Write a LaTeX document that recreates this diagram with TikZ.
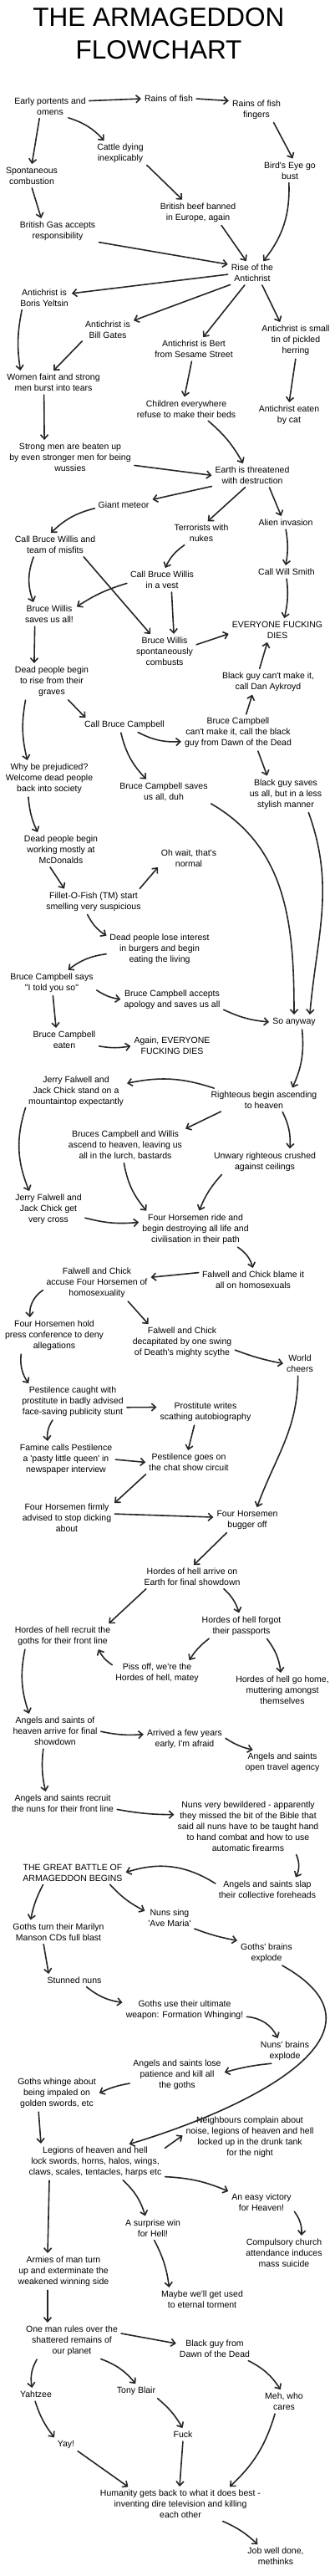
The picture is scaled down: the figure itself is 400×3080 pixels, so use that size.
\documentclass[tikz,border=0pt]{standalone}
\usepackage{fontspec}
\setmainfont{Liberation Sans}[Ligatures=TeXOff]
\usetikzlibrary{arrows.meta}

\begin{document}
\begin{tikzpicture}[x=1pt,y=1pt,
    every node/.style={font=\fontsize{10.5}{13}\selectfont,align=center,inner sep=3pt},
    headline/.style={font=\fontsize{31.5}{39}\selectfont,inner sep=0pt},
    flow/.style={-{Straight Barb[length=5pt,width=9pt]},line width=1.6pt,draw=black!85,
      line cap=round,line join=round,shorten <=1pt,shorten >=1pt}]
  \useasboundingbox (0,0) rectangle (400,-3080);
  \node[headline] (title) at (190,-40.5) {THE ARMAGEDDON\\FLOWCHART};
  \node (early) at (60,-127) {Early portents and\\omens};
  \node (rain) at (202,-118) {Rains of fish};
  \node (fingers) at (307,-131) {Rains of fish\\fingers};
  \node (cattle) at (144,-183.5) {Cattle dying\\inexplicably};
  \node (spont) at (38,-210.5) {Spontaneous\\combustion};
  \node (birds) at (347,-204) {Bird's Eye go\\bust};
  \node (beef) at (237,-254) {British beef banned\\in Europe, again};
  \node (gas) at (69,-276.5) {British Gas accepts\\responsibility};
  \node (rise) at (302,-326.5) {Rise of the\\Antichrist};
  \node (yeltsin) at (53,-356) {Antichrist is\\Boris Yeltsin};
  \node (gates) at (129,-394.5) {Antichrist is\\Bill Gates};
  \node (bert) at (232,-417.5) {Antichrist is Bert\\from Sesame Street};
  \node (herring) at (354,-407) {Antichrist is small\\tin of pickled\\herring};
  \node (women) at (64,-457.5) {Women faint and strong\\men burst into tears};
  \node (children) at (223,-489) {Children everywhere\\refuse to make their beds};
  \node (eaten) at (346,-496.5) {Antichrist eaten\\by cat};
  \node (strong) at (84,-547) {Strong men are beaten up\\by even stronger men for being\\wussies};
  \node (earth) at (302,-568.5) {Earth is threatened\\with destruction};
  \node (meteor) at (148,-604) {Giant meteor};
  \node (terrorists) at (241,-637.5) {Terrorists with\\nukes};
  \node (alien) at (342,-625) {Alien invasion};
  \node (misfits) at (66,-651.5) {Call Bruce Willis and\\team of misfits};
  \node (vest) at (194,-693.5) {Call Bruce Willis\\in a vest};
  \node (willsmith) at (343,-684) {Call Will Smith};
  \node (saves) at (59,-734.5) {Bruce Willis\\saves us all!};
  \node (everyone) at (332,-753.5) {EVERYONE FUCKING\\DIES};
  \node (combusts) at (197,-779) {Bruce Willis\\spontaneously\\combusts};
  \node (deadrise) at (62,-815) {Dead people begin\\to rise from their\\graves};
  \node (dan) at (321,-815) {Black guy can't make it,\\call Dan Aykroyd};
  \node (callbc) at (149,-867) {Call Bruce Campbell};
  \node (bcno) at (285,-876) {Bruce Campbell\\can't make it, call the black\\guy from Dawn of the Dead};
  \node (prejudiced) at (59,-931) {Why be prejudiced?\\Welcome dead people\\back into society};
  \node (bcsaves) at (196,-946.5) {Bruce Campbell saves\\us all, duh};
  \node (blackguy) at (342,-949.5) {Black guy saves\\us all, but in a less\\stylish manner};
  \node (mcdonalds) at (73,-1016) {Dead people begin\\working mostly at\\McDonalds};
  \node (normal) at (226,-1026.5) {Oh wait, that's\\normal};
  \node (fillet) at (112,-1078) {Fillet-O-Fish (TM) start\\smelling very suspicious};
  \node (lose) at (191,-1135) {Dead people lose interest\\in burgers and begin\\eating the living};
  \node (told) at (62,-1175) {Bruce Campbell says\\"I told you so"};
  \node (accepts) at (206,-1195) {Bruce Campbell accepts\\apology and saves us all};
  \node (anyway) at (352,-1222) {So anyway};
  \node (bceaten) at (77,-1243.5) {Bruce Campbell\\eaten};
  \node (again) at (206,-1250.5) {Again, EVERYONE\\FUCKING DIES};
  \node (jerry) at (91,-1305) {Jerry Falwell and\\Jack Chick stand on a\\mountaintop expectantly};
  \node (righteous) at (316,-1315) {Righteous begin ascending\\to heaven};
  \node (bruces) at (150,-1369) {Bruces Campbell and Willis\\ascend to heaven, leaving us\\all in the lurch, bastards};
  \node (unwary) at (317,-1389) {Unwary righteous crushed\\against ceilings};
  \node (cross) at (58,-1446) {Jerry Falwell and\\Jack Chick get\\very cross};
  \node (horsemen) at (234,-1469.5) {Four Horsemen ride and\\begin destroying all life and\\civilisation in their path};
  \node (accuse) at (116,-1534) {Falwell and Chick\\accuse Four Horsemen of\\homosexuality};
  \node (blame) at (303,-1530.5) {Falwell and Chick blame it\\all on homosexuals};
  \node (press) at (65,-1597) {Four Horsemen hold\\press conference to deny\\allegations};
  \node (decap) at (218,-1605) {Falwell and Chick\\decapitated by one swing\\of Death's mighty scythe};
  \node (world) at (359,-1630.5) {World\\cheers};
  \node (pest) at (87,-1676) {Pestilence caught with\\prostitute in badly advised\\face-saving publicity stunt};
  \node (prost) at (246,-1688.5) {Prostitute writes\\scathing autobiography};
  \node (famine) at (79,-1745) {Famine calls Pestilence\\a 'pasty little queen' in\\newspaper interview};
  \node (chat) at (226,-1748.5) {Pestilence goes on\\the chat show circuit};
  \node (firmly) at (80,-1815) {Four Horsemen firmly\\advised to stop dicking\\about};
  \node (bugger) at (296,-1817.5) {Four Horsemen\\bugger off};
  \node (arrive) at (230,-1885.5) {Hordes of hell arrive on\\Earth for final showdown};
  \node (recruit) at (75,-1956.5) {Hordes of hell recruit the\\goths for their front line};
  \node (passports) at (289,-1944) {Hordes of hell forgot\\their passports};
  \node (piss) at (188,-2000.5) {Piss off, we're the\\Hordes of hell, matey};
  \node (home) at (338,-2021) {Hordes of hell go home,\\muttering amongst\\themselves};
  \node (angels) at (66,-2070) {Angels and saints of\\heaven arrive for final\\showdown};
  \node (fewyears) at (221,-2079.5) {Arrived a few years\\early, I'm afraid};
  \node (agency) at (338,-2107) {Angels and saints\\open travel agency};
  \node (nuns) at (75,-2156.5) {Angels and saints recruit\\the nuns for their front line};
  \node (bewildered) at (297,-2183.5) {Nuns very bewildered - apparently\\they missed the bit of the Bible that\\said all nuns have to be taught hand\\to hand combat and how to use\\automatic firearms};
  \node (battle) at (87,-2239) {THE GREAT BATTLE OF\\ARMAGEDDON BEGINS};
  \node (slap) at (320,-2259) {Angels and saints slap\\their collective foreheads};
  \node (sing) at (203,-2293.5) {Nuns sing\\'Ave Maria'};
  \node (goths) at (70,-2310) {Goths turn their Marilyn\\Manson CDs full blast};
  \node (brains) at (319,-2335) {Goths' brains\\explode};
  \node (stunned) at (89,-2368) {Stunned nuns};
  \node (ultimate) at (221,-2403.5) {Goths use their ultimate\\weapon: Formation Whinging!};
  \node (nunsbrains) at (341,-2452.5) {Nuns' brains\\explode};
  \node (patience) at (212,-2481) {Angels and saints lose\\patience and kill all\\the goths};
  \node (whinge) at (68,-2503) {Goths whinge about\\being impaled on\\golden swords, etc};
  \node (neighbours) at (299,-2555.5) {Neighbours complain about\\noise, legions of heaven and hell\\locked up in the drunk tank\\for the night};
  \node (legions) at (114,-2585) {Legions of heaven and hell\\lock swords, horns, halos, wings,\\claws, scales, tentacles, harps etc};
  \node (victory) at (313,-2633) {An easy victory\\for Heaven!};
  \node (surprise) at (183,-2664) {A surprise win\\for Hell!};
  \node (compulsory) at (340,-2694) {Compulsory church\\attendance induces\\mass suicide};
  \node (armies) at (76,-2716) {Armies of man turn\\up and exterminate the\\weakened winning side};
  \node (maybe) at (242,-2749.5) {Maybe we'll get used\\to eternal torment};
  \node (oneman) at (86,-2799) {One man rules over the\\shattered remains of\\our planet};
  \node (blackdawn) at (257,-2808.5) {Black guy from\\Dawn of the Dead};
  \node (yahtzee) at (43,-2863) {Yahtzee};
  \node (blair) at (163,-2859) {Tony Blair};
  \node (meh) at (340,-2871.5) {Meh, who\\cares};
  \node (fuck) at (219,-2911) {Fuck};
  \node (yay) at (79,-2923) {Yay!};
  \node (humanity) at (216,-2994) {Humanity gets back to what it does best -\\inventing dire television and killing\\each other};
  \node (job) at (330,-3056.5) {Job well done,\\methinks};

  \draw[flow] (early.8) -- (rain.west);
  \draw[flow] (rain.east) -- (fingers.162);
  \draw[flow] (early.-133) -- (spont.north);
  \draw[flow] (early.-33) to[bend left=15] (cattle.142);
  \draw[flow] (fingers.-36) -- (birds.74);
  \draw[flow] (cattle.-23) -- (beef.141);
  \draw[flow] (spont.south) -- (gas.143);
  \draw[flow] (birds.-95) to[bend left=20] (rise.47);
  \draw[flow] (beef.-28) -- (rise.116);
  \draw[flow] (gas.-15) -- (rise.160);
  \draw[flow] (rise.183) -- (yeltsin.9);
  \draw[flow] (rise.208) -- (gates.20);
  \draw[flow] (rise.238) -- (bert.52);
  \draw[flow] (rise.-50) -- (herring.131);
  \draw[flow] (yeltsin.207) to[bend right=10] (women.161);
  \draw[flow] (gates.203) -- (women.93);
  \draw[flow] (bert.-100) -- (children.100);
  \draw[flow] (herring.south) -- (eaten.north);
  \draw[flow] (women.230) -- (strong.147);
  \draw[flow] (children.-28) to[bend left=10] (earth.128);
  \draw[flow] (strong.-7) -- (earth.west);
  \draw[flow] (earth.195) -- (meteor.11);
  \draw[flow] (earth.240) -- (terrorists.63);
  \draw[flow] (earth.-34) -- (alien.125);
  \draw[flow] (meteor.186) to[bend right=15] (misfits.113);
  \draw[flow] (terrorists.215) to[bend right=15] (vest.76);
  \draw[flow] (alien.south) to[bend left=10] (willsmith.100);
  \draw[flow] (misfits.208) to[bend right=20] (saves.144);
  \draw[flow] (misfits.-22) -- (combusts.129);
  \draw[flow] (vest.185) to[bend right=8] (saves.15);
  \draw[flow] (vest.-50) -- (combusts.61);
  \draw[flow] (willsmith.south) to[bend left=10] (everyone.59);
  \draw[flow] (combusts.12) -- (everyone.184);
  \draw[flow] (dan.126) -- (everyone.229);
  \draw[flow] (saves.218) -- (deadrise.135);
  \draw[flow] (bcno.66) -- (dan.218);
  \draw[flow] (deadrise.-48) -- (callbc.170);
  \draw[flow] (deadrise.214) to[bend right=12] (prejudiced.141);
  \draw[flow] (callbc.-28) to[bend right=15] (bcno.189);
  \draw[flow] (callbc.-119) to[bend right=15] (bcsaves.145);
  \draw[flow] (bcno.-42) -- (blackguy.136);
  \draw[flow] (prejudiced.220) to[bend right=10] (mcdonalds.144);
  \draw[flow] (bcsaves.-14) to[out=-30,in=90] (anyway.north);
  \draw[flow] (blackguy.-38) to[out=-70,in=85] (anyway.23);
  \draw[flow] (mcdonalds.236) -- (fillet.157);
  \draw[flow] (fillet.15) -- (normal.195);
  \draw[flow] (fillet.242) to[bend right=15] (lose.166);
  \draw[flow] (lose.185) to[bend right=15] (told.38);
  \draw[flow] (told.-9) to[bend right=12] (accepts.west);
  \draw[flow] (told.-85) -- (bceaten.126);
  \draw[flow] (accepts.-11) to[bend right=10] (anyway.west);
  \draw[flow] (bceaten.-10) to[bend right=10] (again.west);
  \draw[flow] (anyway.-40) to[bend left=15] (righteous.22);
  \draw[flow] (righteous.167) to[bend right=15] (jerry.9);
  \draw[flow] (righteous.195) -- (bruces.15);
  \draw[flow] (righteous.-32) to[bend left=15] (unwary.26);
  \draw[flow] (jerry.197) to[bend right=20] (cross.137);
  \draw[flow] (bruces.-95) to[bend right=15] (horsemen.160);
  \draw[flow] (unwary.196) to[bend right=10] (horsemen.79);
  \draw[flow] (cross.-13) to[bend right=10] (horsemen.173);
  \draw[flow] (horsemen.-23) to[bend left=20] (blame.north);
  \draw[flow] (blame.172) -- (accuse.6);
  \draw[flow] (accuse.187) to[bend right=30] (press.144);
  \draw[flow] (accuse.-30) -- (decap.152);
  \draw[flow] (decap.-8) to[bend right=5] (world.west);
  \draw[flow] (world.-100) to[out=-90,in=70] (bugger.52);
  \draw[flow] (press.-152) to[bend right=20] (pest.158);
  \draw[flow] (pest.-6) -- (prost.174);
  \draw[flow] (pest.222) to[bend right=20] (famine.136);
  \draw[flow] (prost.228) -- (chat.95);
  \draw[flow] (famine.east) -- (chat.west);
  \draw[flow] (chat.south west) -- (firmly.17);
  \draw[flow] (firmly.5) -- (bugger.175);
  \draw[flow] (bugger.211) -- (arrive.85);
  \draw[flow] (arrive.194) -- (recruit.15);
  \draw[flow] (arrive.-20) to[bend left=15] (passports.100);
  \draw[flow] (passports.201) to[bend right=10] (piss.21);
  \draw[flow] (passports.-26) to[bend left=15] (home.95);
  \draw[flow] (piss.170) to[bend left=15] (recruit.-19);
  \draw[flow] (recruit.198) to[bend right=15] (angels.147);
  \draw[flow] (angels.east) to[bend right=8] (fewyears.173);
  \draw[flow] (fewyears.2) to[bend right=10] (agency.157);
  \draw[flow] (angels.235) to[bend right=10] (nuns.146);
  \draw[flow] (nuns.-6) to[bend right=5] (bewildered.171);
  \draw[flow] (bewildered.-30) to[bend left=25] (slap.22);
  \draw[flow] (slap.174) to[bend right=25] (battle.east);
  \draw[flow] (battle.201) to[bend right=8] (goths.158);
  \draw[flow] (battle.-17) to[bend right=10] (sing.164);
  \draw[flow] (sing.-23) to[bend right=5] (brains.north west);
  \draw[flow] (goths.217) -- (stunned.167);
  \draw[flow] (stunned.-27) to[bend right=15] (ultimate.173);
  \draw[flow] (ultimate.-6) to[bend left=30] (nunsbrains.119);
  \draw[flow] (nunsbrains.224) to[bend right=5] (patience.3);
  \draw[flow] (patience.190) to[bend right=8] (whinge.east);
  \draw[flow] (brains.-39) .. controls +(143,-80) and +(150,45) .. (legions.28);
  \draw[flow] (whinge.224) -- (legions.162);
  \draw[flow] (legions.11) -- (neighbours.178);
  \draw[flow] (legions.-12) to[bend left=10] (victory.162);
  \draw[flow] (legions.-33) to[bend left=15] (surprise.123);
  \draw[flow] (legions.201) -- (armies.132);
  \draw[flow] (victory.-15) to[bend left=20] (compulsory.44);
  \draw[flow] (surprise.-85) to[bend left=10] (maybe.161);
  \draw[flow] (armies.-132) -- (oneman.144);
  \draw[flow] (oneman.9) -- (blackdawn.172);
  \draw[flow] (oneman.207) to[bend right=20] (yahtzee.122);
  \draw[flow] (oneman.-32) to[bend left=15] (blair.north);
  \draw[flow] (blackdawn.-19) to[bend left=15] (meh.105);
  \draw[flow] (yahtzee.-100) to[bend right=10] (yay.north west);
  \draw[flow] (blair.-18) to[bend left=10] (fuck.north);
  \draw[flow] (fuck.south) -- (humanity.93);
  \draw[flow] (yay.-28) -- (humanity.162);
  \draw[flow] (meh.-128) to[bend left=15] (humanity.19);
  \draw[flow] (humanity.-22) to[bend left=10] (job.147);
\end{tikzpicture}
\end{document}
